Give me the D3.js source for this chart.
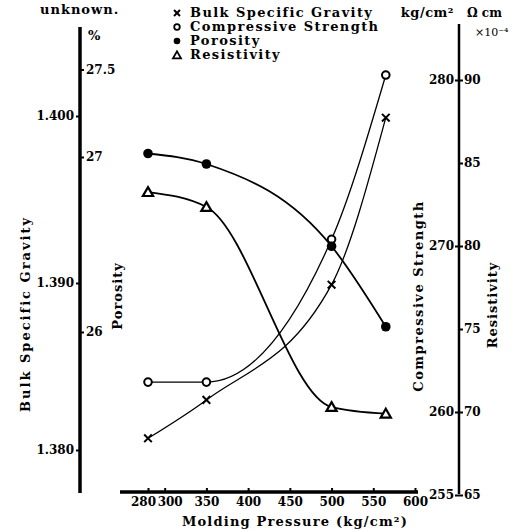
<!DOCTYPE html>
<html><head><meta charset="utf-8">
<script src="https://cdn.jsdelivr.net/npm/d3@7"></script>
<style>
html,body{margin:0;padding:0;background:#fff;}
svg text{font-family:"DejaVu Serif","Liberation Serif",serif;font-weight:bold;fill:#000;}
</style></head>
<body>
<svg id="c" width="527" height="531"></svg>
<script>
// ---- data ----
const pressure = [280, 350, 500, 565];
const bulkSG = [1.3807, 1.3830, 1.3899, 1.3999];
const compressive = [261.8, 261.8, 270.4, 280.3];
const porosity = [27.02, 26.96, 26.49, 26.03];
const resistivity = [83.25, 82.35, 70.3, 69.9];

const xTicks = [280, 300, 350, 400, 450, 500, 550, 600];
const sgTicks = [1.380, 1.390, 1.400];
const porTicks = [26, 27, 27.5];
const compTicks = [255, 260, 270, 280];
const resTicks = [65, 70, 75, 80, 85, 90];
const legendNames = ["Bulk Specific Gravity", "Compressive Strength", "Porosity", "Resistivity"];

const svg = d3.select("#c");

// ---- scales ----
const x = d3.scaleLinear().domain([280, 600]).range([148, 415]);
const ySG = d3.scaleLinear().domain([1.380, 1.400]).range([450, 116]);
const yPor = d3.scaleLinear().domain([26, 27]).range([332, 157]);
const yComp = d3.scaleLinear().domain([260, 280]).range([412, 80]);
const yRes = d3.scaleLinear().domain([70, 90]).range([412, 80]);

// ---- axes ----
const leftX = 80, rightX = 459, baseY = 492;
function styleAxis(g, w) {
  g.select(".domain").remove();
  g.selectAll(".tick line").attr("stroke", "#000").attr("stroke-width", w || 2);
  g.selectAll(".tick text").style("font-size", "12px");
}
svg.append("line").attr("x1", leftX).attr("x2", leftX).attr("y1", 27).attr("y2", 493)
  .attr("stroke", "#000").attr("stroke-width", 3.5);
svg.append("g").attr("transform", `translate(${leftX},0)`)
  .call(d3.axisLeft(ySG).tickValues(sgTicks).tickFormat(d3.format(".3f")).tickSize(4).tickPadding(2))
  .call(g => styleAxis(g));
svg.append("g").attr("transform", `translate(${leftX},0)`)
  .call(d3.axisRight(yPor).tickValues(porTicks).tickFormat(d => d === 27.5 ? "27.5" : d).tickSize(4).tickPadding(2))
  .call(g => styleAxis(g));

svg.append("line").attr("x1", rightX).attr("x2", rightX).attr("y1", 24).attr("y2", 494)
  .attr("stroke", "#000").attr("stroke-width", 2.5);
svg.append("g").attr("transform", `translate(${rightX},0)`)
  .call(d3.axisLeft(d3.scaleLinear().domain([255, 280]).range([yComp(255), yComp(280)])).tickValues(compTicks).tickSize(4).tickPadding(1))
  .call(g => styleAxis(g));
svg.append("g").attr("transform", `translate(${rightX},0)`)
  .call(d3.axisRight(d3.scaleLinear().domain([65, 90]).range([yRes(65), yRes(90)])).tickValues(resTicks).tickSize(4).tickPadding(1))
  .call(g => styleAxis(g));

// x axis
svg.append("line").attr("x1", 120).attr("x2", 418).attr("y1", baseY).attr("y2", baseY)
  .attr("stroke", "#000").attr("stroke-width", 3.5);
svg.append("g").attr("transform", `translate(0,${baseY})`)
  .call(d3.axisTop(x).tickValues(xTicks).tickSize(4).tickFormat(""))
  .call(g => styleAxis(g));
svg.append("g").attr("transform", `translate(0,${baseY})`)
  .call(d3.axisBottom(x).tickValues(xTicks).tickSize(0).tickPadding(5))
  .call(g => styleAxis(g))
  .call(g => g.selectAll(".tick text").attr("dx", d => d === 280 ? -5 : d === 300 ? 5 : 0));

// ---- titles ----
svg.append("text").attr("x", 40).attr("y", 14).style("font-size", "13px").style("letter-spacing", "1px").text("unknown.");
svg.append("text").attr("x", 88).attr("y", 40).style("font-size", "13px").text("%");
svg.append("text").attr("x", 454).attr("y", 17).attr("text-anchor", "end").style("font-size", "13px").style("letter-spacing", "0.5px").text("kg/cm²");
svg.append("text").attr("x", 467).attr("y", 17).style("font-size", "12px").text("Ω cm");
svg.append("text").attr("x", 475).attr("y", 36).style("font-size", "11px").style("font-weight", "normal").text("×10⁻⁴");
svg.append("text").attr("x", 295).attr("y", 526).attr("text-anchor", "middle").style("font-size", "13px").style("letter-spacing", "1.2px").text("Molding Pressure (kg/cm²)");
function vtitle(cx, cy, t, ls) {
  svg.append("text").attr("transform", `translate(${cx},${cy}) rotate(-90)`)
    .attr("text-anchor", "middle").attr("dy", "0.35em").style("font-size", "13px")
    .style("letter-spacing", ls + "px").text(t);
}
vtitle(25, 314, "Bulk Specific Gravity", 2);
vtitle(117, 296, "Porosity", 1);
vtitle(418, 296, "Compressive Strength", 1.5);
vtitle(492, 305, "Resistivity", 1);

// ---- lines ----
const curve = d3.curveMonotoneX;
function series(vals, ys, sw) {
  const pts = pressure.map((p, i) => [x(p), ys(vals[i])]);
  svg.append("path").attr("d", d3.line().curve(curve)(pts))
    .attr("fill", "none").attr("stroke", "#000").attr("stroke-width", sw);
  return pts;
}
const ptsSG = series(bulkSG, ySG, 1.3);
const ptsComp = series(compressive, yComp, 1.3);
const ptsPor = series(porosity, yPor, 1.8);
const ptsRes = series(resistivity, yRes, 1.8);

// ---- markers ----
const crossSym = d3.symbol().type(d3.symbolX).size(40);
const triSym = d3.symbol().type(d3.symbolTriangle).size(45);
function drawMarker(g, kind, cx, cy) {
  if (kind === 0) g.append("path").attr("d", crossSym()).attr("transform", `translate(${cx},${cy})`).attr("stroke", "#000").attr("stroke-width", 2).attr("fill", "none");
  if (kind === 1) g.append("circle").attr("cx", cx).attr("cy", cy).attr("r", 3.8).attr("fill", "#fff").attr("stroke", "#000").attr("stroke-width", 2);
  if (kind === 2) g.append("circle").attr("cx", cx).attr("cy", cy).attr("r", 4.8).attr("fill", "#000");
  if (kind === 3) g.append("path").attr("d", triSym()).attr("transform", `translate(${cx},${cy + 1})`).attr("fill", "#fff").attr("stroke", "#000").attr("stroke-width", 2.2);
}
[ptsSG, ptsComp, ptsPor, ptsRes].forEach((pts, k) => pts.forEach(p => drawMarker(svg, k, p[0], p[1])));

// ---- legend ----
const lg = svg.append("g");
legendNames.forEach((n, i) => {
  const yy = 17 + i * 14;
  const m = lg.append("g");
  if (i === 0) m.append("path").attr("d", d3.symbol().type(d3.symbolX).size(25)()).attr("transform", `translate(177,${yy - 4})`).attr("stroke", "#000").attr("stroke-width", 2);
  if (i === 1) m.append("circle").attr("cx", 177).attr("cy", yy - 4).attr("r", 2.8).attr("fill", "#fff").attr("stroke", "#000").attr("stroke-width", 1.8);
  if (i === 2) m.append("circle").attr("cx", 177).attr("cy", yy - 4).attr("r", 3.3).attr("fill", "#000");
  if (i === 3) m.append("path").attr("d", d3.symbol().type(d3.symbolTriangle).size(28)()).attr("transform", `translate(177,${yy - 3})`).attr("fill", "#fff").attr("stroke", "#000").attr("stroke-width", 1.8);
  lg.append("text").attr("x", 190).attr("y", yy).style("font-size", "13px").style("letter-spacing", "1.4px").text(n);
});
</script>
</body></html>
